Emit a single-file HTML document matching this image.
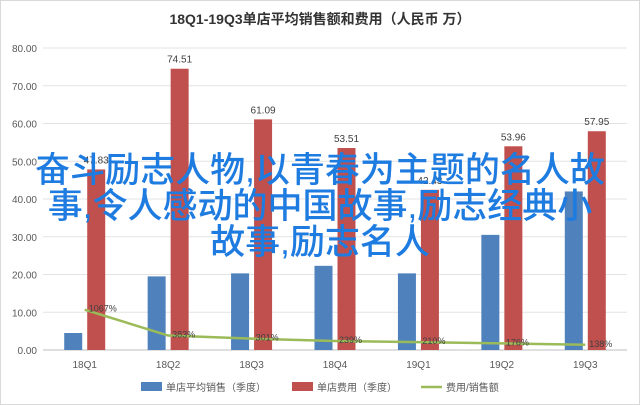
<!DOCTYPE html>
<html><head><meta charset="utf-8"><style>
html,body{margin:0;padding:0;background:#fff;}
#wrap{position:relative;width:640px;height:405px;overflow:hidden;font-family:"Liberation Sans","Noto Sans CJK SC",sans-serif;}
svg text{font-family:"Liberation Sans","Noto Sans CJK SC",sans-serif;}
#overlay{position:absolute;left:-10px;top:153px;width:660px;text-align:center;color:#1e7be0;font-family:"Liberation Sans","Noto Sans CJK SC",sans-serif;font-size:35px;line-height:36px;font-weight:500;}
</style></head><body>
<div id="wrap">
<svg id="chart" width="640" height="405"></svg>
<div id="overlay">奋斗励志人物,以青春为主题的名人故<br>事,令人感动的中国故事,励志经典小<br>故事,励志名人</div>
</div>
<script>
const categories=["18Q1","18Q2","18Q3","18Q4","19Q1","19Q2","19Q3"];
const salesValues=[4.5,19.5,20.3,22.3,20.3,30.5,42.0];
const costValues=[47.83,74.51,61.09,53.51,42.43,53.96,57.95];
const ratioValues=[10.67,3.83,3.01,2.39,2.10,1.76,1.38];
const ratioLabels=["1067%","383%","301%","239%","210%","176%","138%"];
const yTicks=[0,10,20,30,40,50,60,70,80];

const NS="http://www.w3.org/2000/svg";
const svg=document.getElementById('chart');
function el(t,a,txt){const e=document.createElementNS(NS,t);for(const k in a)e.setAttribute(k,a[k]);if(txt!==undefined)e.textContent=txt;svg.appendChild(e);return e;}
const x0=43,x1=627,y0=350,y1=48,ymax=80;
const band=(x1-x0)/categories.length;
const yS=v=>y0-(v/ymax)*(y0-y1);
const xC=i=>x0+band*(i+0.5);

let r=el('rect',{x:0.5,y:0.5,width:639,height:404,fill:'#fff',stroke:'#d9d9d9'});


let t=el('text',{x:320,y:24,'text-anchor':'middle','font-size':'14','font-weight':'bold',fill:'#333'},'18Q1-19Q3单店平均销售额和费用（人民币 万）');



yTicks.forEach(v=>{
  const g=el('line',{x1:x0,x2:x1,y1:yS(v),y2:yS(v),stroke:v===0?'#bfbfbf':'#e3e3e3','stroke-width':1});
  
  
  const l=el('text',{x:37,y:yS(v)+4,'text-anchor':'end','font-size':'10',fill:'#595959'},v.toFixed(2));
  
  
});
const bw=18;
categories.forEach((c,i)=>{
  const cx=xC(i);
  const b=el('rect',{x:cx-bw-2.5,y:yS(salesValues[i]),width:bw,height:y0-yS(salesValues[i]),fill:'#4f81bd'});
  
  
  const rb=el('rect',{x:cx+2.5,y:yS(costValues[i]),width:bw,height:y0-yS(costValues[i]),fill:'#c0504d'});
  
  
  const vl=el('text',{x:cx+2.5+bw/2,y:yS(costValues[i])-6,'text-anchor':'middle','font-size':'10',fill:'#404040'},costValues[i].toFixed(2));
  
  
  const xl=el('text',{x:cx,y:368,'text-anchor':'middle','font-size':'10',fill:'#595959'},c);
  
  
});
const pts=ratioValues.map((v,i)=>(xC(i))+','+yS(v)).join(' ');
const pl=el('polyline',{points:pts,fill:'none',stroke:'#9bbb59','stroke-width':2.5});


ratioValues.forEach((v,i)=>{
  const l=el('text',{x:xC(i)+4,y:yS(v)+2,'font-size':'9',fill:'#404040'},ratioLabels[i]);
  
  
});
const legend=[['rect','#4f81bd','单店平均销售（季度）',141],['rect','#c0504d','单店费用（季度）',292],['line','#9bbb59','费用/销售额',421]];
legend.forEach(([k,col,txt,x])=>{
  let m;
  if(k==='rect') m=el('rect',{x:x,y:382,width:21,height:9,fill:col});
  else m=el('line',{x1:x,x2:x+21,y1:387,y2:387,stroke:col,'stroke-width':2.5});
  
  
  const l=el('text',{x:x+25,y:391,'font-size':'10',fill:'#595959'},txt);
  
  
});
</script>
</body></html>
